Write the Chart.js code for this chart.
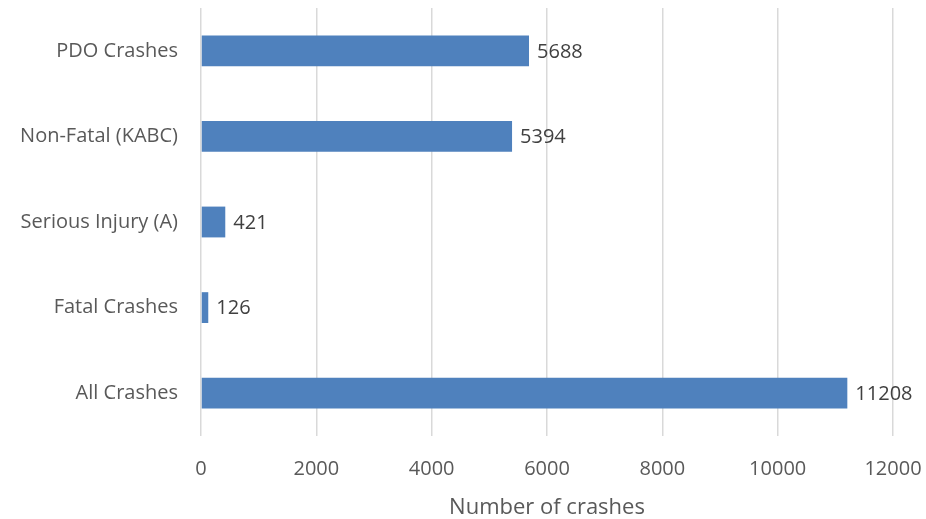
<!DOCTYPE html>
<html>
<head>
<meta charset="utf-8">
<script src="https://cdn.jsdelivr.net/npm/chart.js@4"></script>
<style>
  html, body { margin: 0; padding: 0; background: #fff; }
  #wrap { width: 926px; height: 519px; }
</style>
</head>
<body>
<div id="wrap"><canvas id="crashChart"></canvas></div>
<script>
const categories = ['PDO Crashes', 'Non-Fatal (KABC)', 'Serious Injury (A)', 'Fatal Crashes', 'All Crashes'];
const crashCounts = [5688, 5394, 421, 126, 11208];
const xTicks = [0, 2000, 4000, 6000, 8000, 10000, 12000];

const FONT = "'Open Sans', sans-serif";

// value labels at the end of each bar
const barValueLabels = {
    id: 'barValueLabels',
    afterDatasetsDraw: (chart) => {
        const { ctx } = chart;
        const meta = chart.getDatasetMeta(0);
        ctx.save();
        ctx.fillStyle = '#404040';
        ctx.font = '20px ' + FONT;
        ctx.textAlign = 'left';
        ctx.textBaseline = 'middle';
        meta.data.forEach((bar, i) => {
            ctx.fillText(String(crashCounts[i]), bar.x + 8, bar.y + 1);
        });
        ctx.restore();
    }
};

new Chart(document.getElementById('crashChart'), {
    type: 'bar',
    data: {
        labels: categories,
        datasets: [{
            data: crashCounts,
            backgroundColor: '#4F81BD',
            borderWidth: 0,
            barPercentage: 0.6,
            categoryPercentage: 0.6
        }]
    },
    options: {
        indexAxis: 'y',
        responsive: true,
        maintainAspectRatio: false,
        animation: false,
        layout: {
            padding: { top: 8, right: 33, bottom: 0, left: 0 }
        },
        plugins: {
            legend: { display: false },
            tooltip: { enabled: false }
        },
        scales: {
            x: {
                min: 0,
                max: 12000,
                afterBuildTicks: (scale) => {
                    scale.ticks = xTicks.map(v => ({ value: v }));
                },
                afterFit: (scale) => {
                    scale.height = 83;
                    scale.paddingLeft = 0;
                    scale.paddingRight = 0;
                },
                grid: { color: '#d9d9d9', lineWidth: 1.5, drawTicks: false },
                border: { display: false },
                ticks: {
                    color: '#595959',
                    font: { family: FONT, size: 20 },
                    padding: 21,
                    callback: (value) => String(value)
                },
                title: {
                    display: true,
                    text: 'Number of crashes',
                    color: '#595959',
                    font: { family: FONT, size: 22 },
                    padding: { top: 0, bottom: -2 }
                }
            },
            y: {
                afterFit: (scale) => {
                    scale.width = 201;
                    // keep the label overhang from pushing the plot area down
                    scale.paddingTop = 0;
                    scale.paddingBottom = 0;
                },
                grid: { display: false, drawTicks: false },
                border: { display: false },
                ticks: {
                    color: '#595959',
                    font: { family: FONT, size: 20 },
                    padding: 23
                }
            }
        }
    },
    plugins: [barValueLabels]
});
</script>
</body>
</html>
